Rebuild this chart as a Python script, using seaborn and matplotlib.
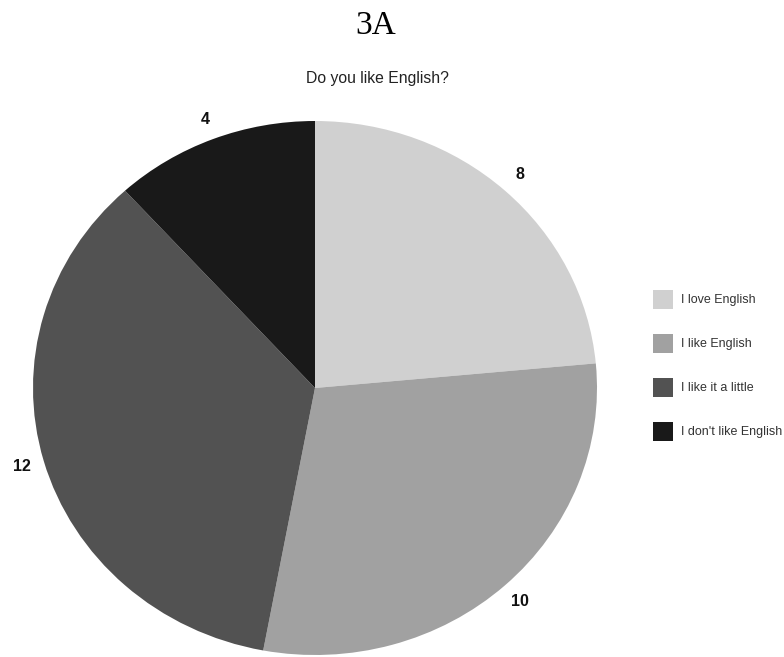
import matplotlib
matplotlib.use("Agg")
import matplotlib.pyplot as plt
import seaborn as sns

answers = ["I love English", "I like English", "I like it a little", "I don't like English"]
counts = [8, 10, 12, 4]
greys = ["#d0d0d0", "#a1a1a1", "#525252", "#191919"]

sns.set_theme(style="white")
plt.rcParams['font.family'] = ['Liberation Sans', 'DejaVu Sans']

fig = plt.figure(figsize=(7.84, 6.57), dpi=100)
# axes box = bounding box of the (slightly stretched) pie
ax = fig.add_axes([33 / 784, 2 / 657, 564 / 784, 534 / 657])

total = sum(counts)
wedges, texts, nums = ax.pie(
    counts,
    colors=sns.color_palette(greys),
    startangle=90,
    counterclock=False,
    wedgeprops=dict(linewidth=0),
    autopct=lambda p: f"{round(p * total / 100)}",
    pctdistance=1.08,
    textprops=dict(fontsize=11.5, fontweight="bold", color="#111111"),
)
ax.set_aspect("auto")
ax.set_xlim(-1, 1)
ax.set_ylim(-1, 1)
ax.axis("off")

fig.text(376 / 784, 1 - 26 / 657, "3A", family="Liberation Serif",
         fontsize=24, ha="center", va="center", color="black")
fig.text(377 / 784, 1 - 78 / 657, "Do you like English?", fontsize=11.3,
         ha="center", va="center", color="#222222")

fig.legend(wedges, answers, loc="upper left",
           bbox_to_anchor=(653 / 784, 1 - 290 / 657),
           frameon=False, fontsize=9, borderpad=0, borderaxespad=0,
           handlelength=1.6, handleheight=1.96, handletextpad=0.64,
           labelspacing=2.0, labelcolor="#333333")

plt.savefig("out.png", dpi=100)
